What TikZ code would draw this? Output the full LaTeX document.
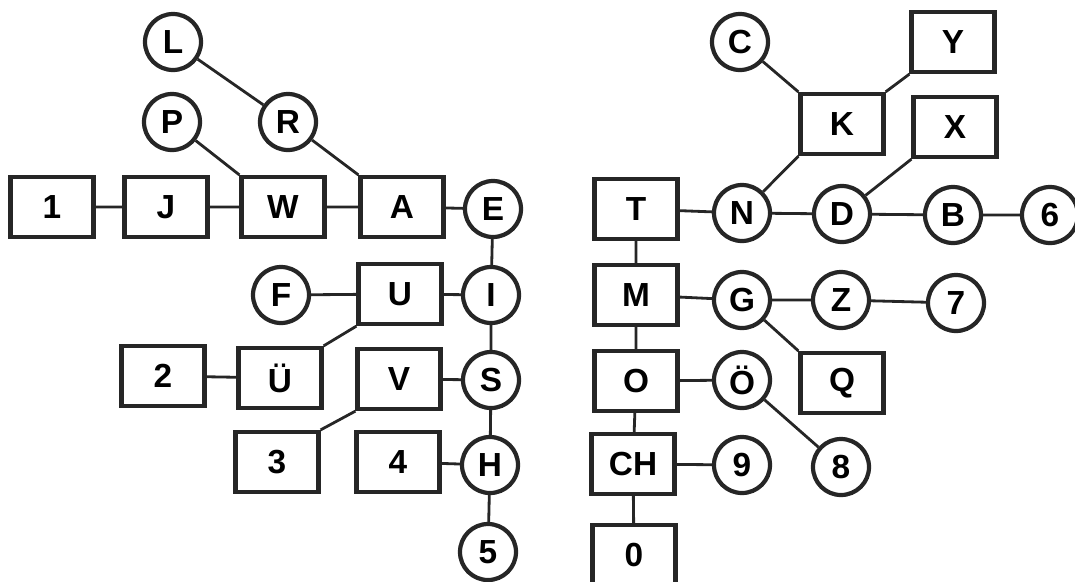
\documentclass[tikz,border=0pt]{standalone}
\usepackage{fontspec}
\setmainfont{Liberation Sans}
\usepackage{tikz}

\begin{document}
\begin{tikzpicture}

%
% Styles
%
\tikzstyle{dashbox} = [rectangle,draw=black!85,line width=2.4pt,minimum width=1.66cm,minimum height=1.2cm,inner sep=0pt,font=\fontsize{19}{19}\selectfont\bfseries]
\tikzstyle{dotcircle} = [circle,draw=black!85,line width=2.4pt,minimum size=1.12cm,inner sep=0pt,font=\fontsize{19}{19}\selectfont\bfseries]
\tikzstyle{link} = [draw=black!85,line width=1.6pt]

\useasboundingbox (0,0) rectangle (21.5,-11.62);

% left tree
\node[dotcircle] (nL) at  ( 3.46, -0.84) {L};
\node[dotcircle] (nP) at  ( 3.44, -2.44) {P};
\node[dotcircle] (nR) at  ( 5.76, -2.44) {R};
\node[dashbox]   (n1) at  ( 1.04, -4.14) {1};
\node[dashbox]   (nJ) at  ( 3.32, -4.14) {J};
\node[dashbox]   (nW) at  ( 5.66, -4.14) {W};
\node[dashbox]   (nA) at  ( 8.04, -4.14) {A};
\node[dotcircle] (nE) at  ( 9.86, -4.18) {E};
\node[dotcircle] (nF) at  ( 5.62, -5.90) {F};
\node[dashbox]   (nU) at  ( 8.00, -5.88) {U};
\node[dotcircle] (nI) at  ( 9.82, -5.90) {I};
\node[dashbox]   (n2) at  ( 3.26, -7.52) {2};
\node[dashbox]   (nUe) at ( 5.60, -7.56) {Ü};
\node[dashbox]   (nV) at  ( 7.98, -7.58) {V};
\node[dotcircle] (nS) at  ( 9.82, -7.60) {S};
\node[dashbox]   (n3) at  ( 5.54, -9.24) {3};
\node[dashbox]   (n4) at  ( 7.96, -9.24) {4};
\node[dotcircle] (nH) at  ( 9.80, -9.30) {H};
\node[dotcircle] (n5) at  ( 9.76, -11.04) {5};

% right tree
\node[dotcircle] (nC) at  (14.80, -0.84) {C};
\node[dashbox]   (nY) at  (19.06, -0.84) {Y};
\node[dashbox]   (nK) at  (16.84, -2.48) {K};
\node[dashbox]   (nX) at  (19.10, -2.54) {X};
\node[dashbox]   (nT) at  (12.72, -4.18) {T};
\node[dotcircle] (nN) at  (14.84, -4.26) {N};
\node[dotcircle] (nD) at  (16.84, -4.28) {D};
\node[dotcircle] (nB) at  (19.06, -4.30) {B};
\node[dotcircle] (n6) at  (21.00, -4.30) {6};
\node[dashbox]   (nM) at  (12.72, -5.90) {M};
\node[dotcircle] (nG) at  (14.84, -6.00) {G};
\node[dotcircle] (nZ) at  (16.82, -6.00) {Z};
\node[dotcircle] (n7) at  (19.12, -6.06) {7};
\node[dashbox]   (nO) at  (12.72, -7.62) {O};
\node[dotcircle] (nOe) at (14.84, -7.60) {Ö};
\node[dashbox]   (nQ) at  (16.84, -7.66) {Q};
\node[dashbox]   (nCH) at (12.66, -9.28) {CH};
\node[dotcircle] (n9) at  (14.84, -9.30) {9};
\node[dotcircle] (n8) at  (16.82, -9.34) {8};
\node[dashbox]   (n0) at  (12.68, -11.10) {0};

\path[link] (n1) -- (nJ) -- (nW) -- (nA) -- (nE);
\path[link] (nE) -- (nI) -- (nS) -- (nH) -- (n5);
\path[link] (nL) -- (nR);
\path[link] (nR) -- (nA.north west);
\path[link] (nP) -- (nW.north west);
\path[link] (nF) -- (nU) -- (nI);
\path[link] (nU.south west) -- (nUe.north east);
\path[link] (n2) -- (nUe);
\path[link] (nV) -- (nS);
\path[link] (nV.south west) -- (n3.north east);
\path[link] (n4) -- (nH);

\path[link] (nT) -- (nN) -- (nD) -- (nB) -- (n6);
\path[link] (nT) -- (nM) -- (nO) -- (nCH) -- (n0);
\path[link] (nC) -- (nK.north west);
\path[link] (nK.north east) -- (nY.south west);
\path[link] (nK.south west) -- (nN);
\path[link] (nX.south west) -- (nD);
\path[link] (nM) -- (nG) -- (nZ) -- (n7);
\path[link] (nG) -- (nQ.north west);
\path[link] (nO) -- (nOe);
\path[link] (nOe) -- (n8);
\path[link] (nCH) -- (n9);

\end{tikzpicture}
\end{document}
